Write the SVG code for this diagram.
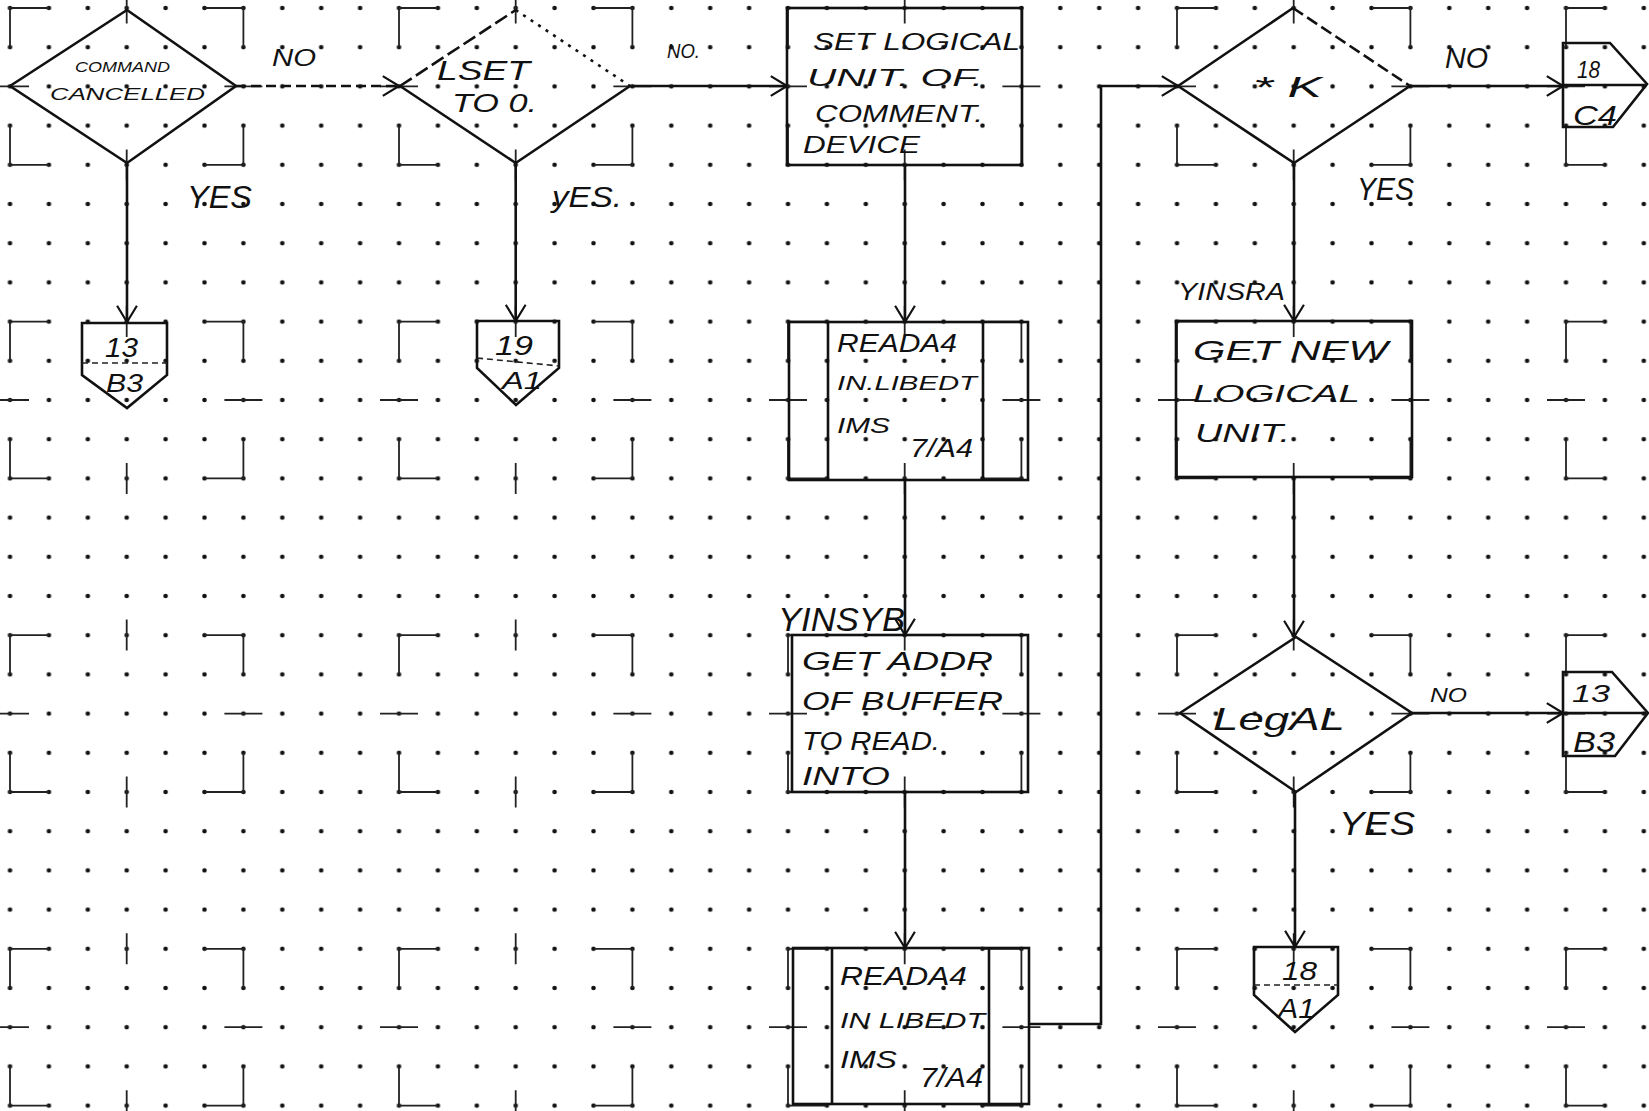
<svg xmlns="http://www.w3.org/2000/svg" xmlns:xlink="http://www.w3.org/1999/xlink" width="1649" height="1111" viewBox="0 0 1649 1111">
<style>
.tpl{fill:none;stroke:#222;stroke-width:1.8}
.sym{fill:none;stroke:#111;stroke-width:2.6;stroke-linejoin:miter}
.div{fill:none;stroke:#222;stroke-width:1.6;stroke-dasharray:6 4}
.con{fill:none;stroke:#111;stroke-width:2.6;marker-end:url(#ah)}
.t{font-family:"Liberation Sans",Arial,sans-serif;font-style:italic;fill:#111}
</style>
<defs>
<pattern id="dots" patternUnits="userSpaceOnUse" x="-9.45" y="-11.6" width="38.9" height="39.2">
<circle cx="19.45" cy="19.6" r="2.3" fill="#111"/>
</pattern>
<path id="cell" class="tpl" d="M-116.7,-39.2V-78.4H-77.8M77.8,-78.4H116.7V-39.2M-116.7,39.2V78.4H-77.8M77.8,78.4H116.7V39.2M0,-94V-63M0,63V94M-135.7,0H-97.7M97.7,0H135.7"/>
<marker id="ah" viewBox="0 0 20 24" refX="19" refY="12" markerWidth="18" markerHeight="22" markerUnits="userSpaceOnUse" orient="auto">
<path d="M1,1L19,12L1,23" fill="none" stroke="#111" stroke-width="2.4"/>
</marker>
</defs>
<rect x="0" y="0" width="1649" height="1111" fill="#fff"/>
<rect x="0" y="0" width="1649" height="1111" fill="url(#dots)"/>
<g id="template">
<use xlink:href="#cell" x="126.7" y="86.4"/><use xlink:href="#cell" x="515.7" y="86.4"/><use xlink:href="#cell" x="904.7" y="86.4"/><use xlink:href="#cell" x="1293.7" y="86.4"/><use xlink:href="#cell" x="1682.7" y="86.4"/>
<use xlink:href="#cell" x="126.7" y="400"/><use xlink:href="#cell" x="515.7" y="400"/><use xlink:href="#cell" x="904.7" y="400"/><use xlink:href="#cell" x="1293.7" y="400"/><use xlink:href="#cell" x="1682.7" y="400"/>
<use xlink:href="#cell" x="126.7" y="713.6"/><use xlink:href="#cell" x="515.7" y="713.6"/><use xlink:href="#cell" x="904.7" y="713.6"/><use xlink:href="#cell" x="1293.7" y="713.6"/><use xlink:href="#cell" x="1682.7" y="713.6"/>
<use xlink:href="#cell" x="126.7" y="1027.2"/><use xlink:href="#cell" x="515.7" y="1027.2"/><use xlink:href="#cell" x="904.7" y="1027.2"/><use xlink:href="#cell" x="1293.7" y="1027.2"/><use xlink:href="#cell" x="1682.7" y="1027.2"/>
</g>
<g id="connectors">
<path class="con" d="M127,164V322"/>
<path class="con" d="M236,86H399" stroke-dasharray="10 5"/>
<path class="con" d="M515.7,163V321"/>
<path class="con" d="M630,86H787"/>
<path class="con" d="M905,165V322"/>
<path class="con" d="M905,480V635"/>
<path class="con" d="M905,792V948"/>
<path class="con" d="M1029,1024H1101V86H1178"/>
<path class="con" d="M1410,86H1563"/>
<path class="con" d="M1294,163V321"/>
<path class="con" d="M1294,477V637"/>
<path class="con" d="M1412,713H1563"/>
<path class="con" d="M1295,792V947"/>
</g>
<g id="n1">
<path class="sym" d="M10,86L127,10L236,86L127,163Z"/>
<text class="t" x="75" y="72" font-size="14" textLength="95" lengthAdjust="spacingAndGlyphs">COMMAND</text>
<text class="t" x="50" y="100" font-size="17" textLength="155" lengthAdjust="spacingAndGlyphs">CANCELLED</text>
</g>
<g id="l1">
<text class="t" x="272" y="66" font-size="24" textLength="44" lengthAdjust="spacingAndGlyphs">NO</text>
<text class="t" x="187" y="208" font-size="32" textLength="65" lengthAdjust="spacingAndGlyphs">YES</text>
</g>
<g id="n2">
<path class="sym" d="M400,86L515.7,163L630,86"/>
<path class="sym" d="M400,86L515.7,10" stroke-dasharray="14 5" stroke-width="2"/>
<path class="sym" d="M515.7,10L630,86" stroke-dasharray="3 6" stroke-width="1.8"/>
<text class="t" x="437" y="80" font-size="28" textLength="93" lengthAdjust="spacingAndGlyphs">LSET</text>
<text class="t" x="452" y="112" font-size="26" textLength="85" lengthAdjust="spacingAndGlyphs">TO 0.</text>
</g>
<g id="l2">
<text class="t" x="667" y="58" font-size="20" textLength="33" lengthAdjust="spacingAndGlyphs">NO.</text>
<text class="t" x="552" y="207" font-size="30" textLength="70" lengthAdjust="spacingAndGlyphs">yES.</text>
</g>
<g id="n3">
<rect class="sym" x="787" y="8" width="235" height="157"/>
<text class="t" x="813" y="50" font-size="23" textLength="207" lengthAdjust="spacingAndGlyphs">SET LOGICAL</text>
<text class="t" x="807" y="86" font-size="23" textLength="176" lengthAdjust="spacingAndGlyphs">UNIT. OF.</text>
<text class="t" x="815" y="122" font-size="23" textLength="168" lengthAdjust="spacingAndGlyphs">COMMENT.</text>
<text class="t" x="803" y="153" font-size="23" textLength="117" lengthAdjust="spacingAndGlyphs">DEVICE</text>
</g>
<g id="n4">
<rect class="sym" x="789" y="322" width="239" height="158"/>
<path class="sym" d="M828,322V480M983,322V480"/>
<text class="t" x="837" y="352" font-size="25" textLength="120" lengthAdjust="spacingAndGlyphs">READA4</text>
<text class="t" x="837" y="390" font-size="21" textLength="140" lengthAdjust="spacingAndGlyphs">IN.LIBEDT</text>
<text class="t" x="837" y="433" font-size="22" textLength="53" lengthAdjust="spacingAndGlyphs">IMS</text>
<text class="t" x="910" y="457" font-size="26" textLength="63" lengthAdjust="spacingAndGlyphs">7/A4</text>
</g>
<g id="n5">
<text class="t" x="778" y="631" font-size="34" textLength="127" lengthAdjust="spacingAndGlyphs">YINSYB</text>
<rect class="sym" x="792" y="635" width="236" height="157"/>
<text class="t" x="802" y="670" font-size="26" textLength="191" lengthAdjust="spacingAndGlyphs">GET ADDR</text>
<text class="t" x="802" y="710" font-size="26" textLength="201" lengthAdjust="spacingAndGlyphs">OF BUFFER</text>
<text class="t" x="802" y="750" font-size="26" textLength="138" lengthAdjust="spacingAndGlyphs">TO READ.</text>
<text class="t" x="802" y="785" font-size="26" textLength="88" lengthAdjust="spacingAndGlyphs">INTO</text>
</g>
<g id="n6">
<rect class="sym" x="793" y="948" width="236" height="156"/>
<path class="sym" d="M832,948V1104M989,948V1104"/>
<text class="t" x="840" y="985" font-size="26" textLength="127" lengthAdjust="spacingAndGlyphs">READA4</text>
<text class="t" x="840" y="1028" font-size="22" textLength="145" lengthAdjust="spacingAndGlyphs">IN LIBEDT</text>
<text class="t" x="840" y="1068" font-size="24" textLength="57" lengthAdjust="spacingAndGlyphs">IMS</text>
<text class="t" x="920" y="1087" font-size="28" textLength="63" lengthAdjust="spacingAndGlyphs">7/A4</text>
</g>
<g id="n7">
<path class="sym" d="M1178,86L1293,8M1178,86L1294,163L1410,86"/>
<path class="sym" d="M1293,8L1410,86" stroke-dasharray="12 5" stroke-width="2"/>
<text class="t" x="1253" y="97" font-size="30" textLength="69" lengthAdjust="spacingAndGlyphs">* K</text>
</g>
<g id="l7">
<text class="t" x="1445" y="68" font-size="30" textLength="43" lengthAdjust="spacingAndGlyphs">NO</text>
<text class="t" x="1357" y="200" font-size="32" textLength="57" lengthAdjust="spacingAndGlyphs">YES</text>
</g>
<g id="n8">
<path class="sym" d="M1563,43H1610L1647,84L1613,127H1563Z"/>
<path class="sym" d="M1563,85H1645" stroke-width="2"/>
<text class="t" x="1577" y="78" font-size="24" textLength="23" lengthAdjust="spacingAndGlyphs">18</text>
<text class="t" x="1573" y="125" font-size="28" textLength="44" lengthAdjust="spacingAndGlyphs">C4</text>
</g>
<g id="n9">
<text class="t" x="1178" y="300" font-size="24" textLength="107" lengthAdjust="spacingAndGlyphs">YINSRA</text>
<rect class="sym" x="1176" y="321" width="236" height="156"/>
<text class="t" x="1193" y="360" font-size="28" textLength="195" lengthAdjust="spacingAndGlyphs">GET NEW</text>
<text class="t" x="1193" y="402" font-size="24" textLength="167" lengthAdjust="spacingAndGlyphs">LOGICAL</text>
<text class="t" x="1195" y="442" font-size="26" textLength="95" lengthAdjust="spacingAndGlyphs">UNIT.</text>
</g>
<g id="n10">
<path class="sym" d="M1180,713L1296,637L1412,713L1296,792Z"/>
<text class="t" x="1213" y="730" font-size="32" textLength="132" lengthAdjust="spacingAndGlyphs">LegAL</text>
</g>
<g id="l10">
<text class="t" x="1430" y="702" font-size="20" textLength="37" lengthAdjust="spacingAndGlyphs">NO</text>
<text class="t" x="1339" y="835" font-size="34" textLength="76" lengthAdjust="spacingAndGlyphs">YES</text>
</g>
<g id="n11">
<path class="sym" d="M1563,672H1612L1648,713L1615,756H1563Z"/>
<path class="sym" d="M1563,713H1646" stroke-width="2"/>
<text class="t" x="1572" y="702" font-size="24" textLength="38" lengthAdjust="spacingAndGlyphs">13</text>
<text class="t" x="1573" y="752" font-size="30" textLength="42" lengthAdjust="spacingAndGlyphs">B3</text>
</g>
<g id="n12">
<path class="sym" d="M82,323H167V375L127,408L82,375Z"/>
<path class="div" d="M82,363H167"/>
<text class="t" x="105" y="357" font-size="28" textLength="33" lengthAdjust="spacingAndGlyphs">13</text>
<text class="t" x="106" y="392" font-size="26" textLength="37" lengthAdjust="spacingAndGlyphs">B3</text>
</g>
<g id="n13">
<path class="sym" d="M477,321H559V368L516,405L477,368Z"/>
<path class="div" d="M477,358L559,366"/>
<text class="t" x="495" y="355" font-size="28" textLength="38" lengthAdjust="spacingAndGlyphs">19</text>
<text class="t" x="502" y="389" font-size="24" textLength="40" lengthAdjust="spacingAndGlyphs">A1</text>
</g>
<g id="n14">
<path class="sym" d="M1254,947H1338V995L1295,1032L1254,995Z"/>
<path class="div" d="M1254,985H1338"/>
<text class="t" x="1282" y="980" font-size="26" textLength="35" lengthAdjust="spacingAndGlyphs">18</text>
<text class="t" x="1278" y="1018" font-size="28" textLength="37" lengthAdjust="spacingAndGlyphs">A1</text>
</g>
</svg>
